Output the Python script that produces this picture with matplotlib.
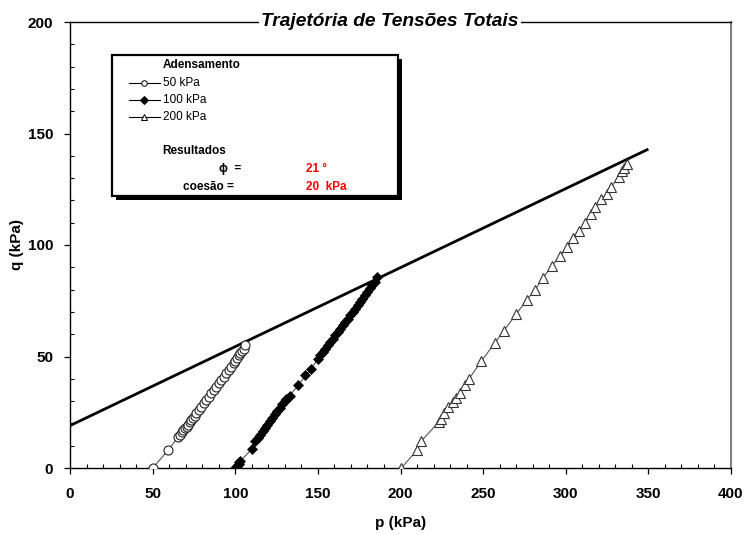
import matplotlib
matplotlib.use('Agg')
import matplotlib.pyplot as plt
from matplotlib.patches import Rectangle
from matplotlib.ticker import MultipleLocator

plt.rcParams['font.family'] = ['Liberation Sans', 'DejaVu Sans']

# stress paths (p, q in kPa)
p_50 = [50, 59.5, 65.5, 66.5, 67.5, 68.5, 69.5, 70.5, 71.5, 72.5, 73.5, 74.5, 75.5,
        76.5, 78, 79.5, 81, 82.5, 84, 85.5, 87, 88.5, 90, 91.5, 93, 94.5, 96, 97.5,
        99, 100, 101, 102, 103, 104, 105, 106]
q_50 = [0, 8, 14, 15, 16, 17, 17.8, 18.5, 19.5, 20.5, 21.5, 22.5, 23.5,
        24.5, 26, 27.5, 29, 30.5, 32, 33.5, 35, 36.5, 38, 39.5, 41, 42.5, 44, 45.5,
        47, 48, 49.5, 50.5, 51.5, 52.5, 53.5, 55]

p_100 = [100, 100.5, 101, 101.5, 102, 102.5, 103, 110, 112, 113.5, 115, 116.5, 118,
         119.5, 121, 122.5, 124, 125.5, 127, 128.5, 130, 131, 133, 138, 142.5, 146,
         150, 151.5, 153, 154.5, 156, 157.5, 159, 160.5, 162, 163.5, 165, 166.5, 168,
         169.5, 171, 172.5, 174, 175.5, 177, 178.5, 180, 181.5, 183, 184.5, 185.5]
q_100 = [0, 0.5, 1, 1.5, 2, 2.5, 3, 8.5, 12, 13.5, 15, 16.5, 18,
         19.5, 21, 22.5, 24, 25.5, 27, 28.5, 30, 31, 32.5, 37, 41.5, 44.5,
         49, 50.5, 52, 53.5, 55, 56.5, 58, 59.5, 61, 62.5, 64, 65.5, 67,
         68.5, 70, 71.5, 73, 74.5, 76, 77.5, 79, 80.5, 82, 83.5, 85.5]

p_200 = [200.5, 210, 212.5, 223, 224.5, 226.5, 229, 231.5, 233.5, 236, 239, 241.5,
         249, 257, 262.5, 270, 276.5, 281.5, 286, 291.5, 296.5, 301, 304.5, 308,
         311.5, 315.5, 318, 321.5, 325, 327.5, 332, 334, 335.5, 337]
q_200 = [0, 8, 12, 20.5, 22, 24.5, 27.5, 29.5, 31.5, 33.5, 37, 40,
         48, 56, 61.5, 69, 75.5, 80, 85, 90.5, 95, 99, 103, 106.5,
         110, 114, 117, 120.5, 123, 126, 130.5, 133, 134.5, 136.5]

# failure envelope: phi = 21 deg, c = 20 kPa
p_env = [0, 350]
q_env = [19, 143]

W, H = 746, 535
fig = plt.figure(figsize=(W / 100, H / 100), dpi=100)
ax = fig.add_axes([70 / W, 1 - 468 / H, 661 / W, 446 / H])

ax.plot(p_50, q_50, color='#555555', lw=0.8, marker='o', ms=6.5, mfc='white',
        mec='#222222', mew=0.8, zorder=3)
ax.plot(p_100, q_100, color='#555555', lw=0.8, marker='D', ms=5.5, mfc='black',
        mec='black', mew=0.5, zorder=3)
ax.plot(p_200, q_200, color='#555555', lw=0.8, marker='^', ms=7, mfc='white',
        mec='#333333', mew=0.8, zorder=3)
ax.plot(p_env, q_env, color='black', lw=2.0, solid_capstyle='butt', zorder=2)

ax.set_xlim(0, 400)
ax.set_ylim(0, 200)
ax.xaxis.set_major_locator(MultipleLocator(50))
ax.xaxis.set_minor_locator(MultipleLocator(10))
ax.yaxis.set_major_locator(MultipleLocator(50))
ax.yaxis.set_minor_locator(MultipleLocator(10))
ax.tick_params(which='major', direction='out', length=4, width=0.9, pad=10,
               labelsize=11)
ax.tick_params(which='minor', direction='in', length=3, width=0.8)
ax.tick_params(axis='y', pad=8)
for lab in ax.get_xticklabels() + ax.get_yticklabels():
    lab.set_fontweight('bold')

for s in ['left', 'bottom', 'top']:
    ax.spines[s].set_color('black')
    ax.spines[s].set_linewidth(1.0)
ax.spines['right'].set_color('#808080')
ax.spines['right'].set_linewidth(1.5)

ax.set_xlabel('p (kPa)', fontsize=11, fontweight='bold')
ax.set_ylabel('q (kPa)', fontsize=11, fontweight='bold')
ax.xaxis.set_label_coords(0.5, -(523 - 468) / 446)
ax.yaxis.set_label_coords(-(70 - 17) / 661, 0.5)
ax.xaxis.label.set_va('center')
ax.yaxis.label.set_va('center')

fig.text(390 / W, 1 - 22 / H, 'Trajetória de Tensões Totais', ha='center', va='center',
         fontsize=13.8, fontweight='bold', style='italic', zorder=10,
         bbox=dict(fc='white', ec='none', pad=2))

# legend box drawn by hand (pixel coords inside the box)
bw, bh = 286, 140.7
lax = fig.add_axes([111.7 / W, 1 - 195.7 / H, bw / W, bh / H], zorder=5)
lax.set_xlim(0, bw)
lax.set_ylim(bh, 0)
lax.axis('off')
lax.add_patch(Rectangle((4, 4), bw, bh, fc='black', ec='none', clip_on=False, zorder=1))
lax.add_patch(Rectangle((0, 0), bw, bh, fc='white', ec='black', lw=1.6, clip_on=False, zorder=2))

fs = 8.5
lax.text(51, 10, 'Adensamento', fontsize=fs, fontweight='bold', va='center', zorder=3)
entries = [('50 kPa', 'o', 'white', 27.7), ('100 kPa', 'D', 'black', 45), ('200 kPa', '^', 'white', 61.7)]
for lbl, mk, fc, yy in entries:
    lax.plot([17.3, 48.3], [yy, yy], color='black', lw=0.8, zorder=3)
    lax.plot([32], [yy], marker=mk, ms=4, mfc=fc, mec='black', mew=0.7, zorder=4)
    lax.text(51, yy, lbl, fontsize=fs, va='center', zorder=3)

lax.text(51, 96, 'Resultados', fontsize=fs, fontweight='bold', va='center', zorder=3)
lax.text(107.5, 114, 'ϕ  =', fontsize=fs, fontweight='bold', va='center', zorder=3)
lax.text(194.3, 114, '21 °', fontsize=fs, fontweight='bold', color='red', va='center', zorder=3)
lax.text(71, 131.7, 'coesão =', fontsize=fs, fontweight='bold', va='center', zorder=3)
lax.text(194.3, 131.7, '20  kPa', fontsize=fs, fontweight='bold', color='red', va='center', zorder=3)

fig.savefig('out.png', dpi=100)
